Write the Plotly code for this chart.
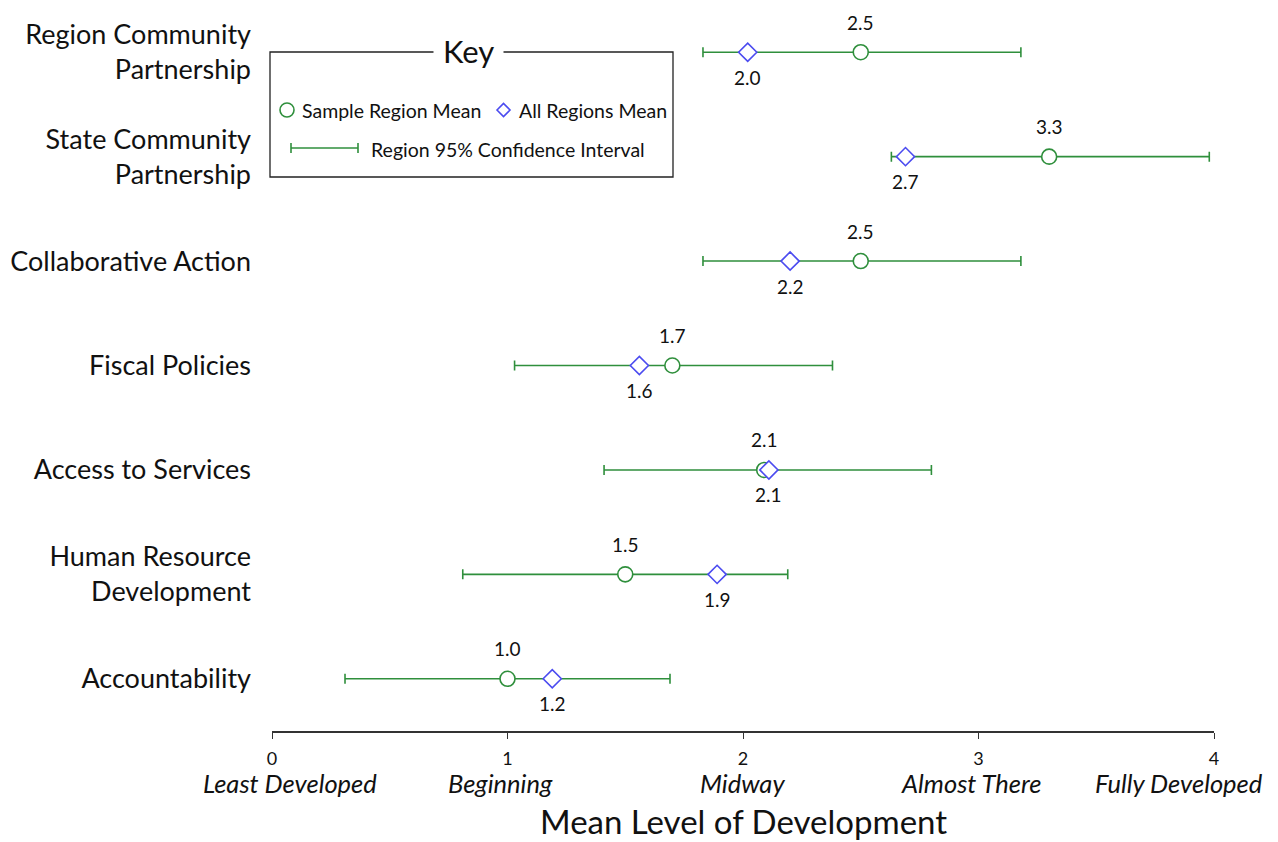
import plotly.graph_objects as go

# Indicator areas (top to bottom)
categories = [
    "Region Community<br>Partnership",
    "State Community<br>Partnership",
    "Collaborative Action",
    "Fiscal Policies",
    "Access to Services",
    "Human Resource<br>Development",
    "Accountability",
]
region_mean = [2.5, 3.3, 2.5, 1.7, 2.09, 1.5, 1.0]
all_regions_mean = [2.02, 2.69, 2.2, 1.56, 2.11, 1.89, 1.19]
ci_low = [1.83, 2.63, 1.83, 1.03, 1.41, 0.81, 0.31]
ci_high = [3.18, 3.98, 3.18, 2.38, 2.80, 2.19, 1.69]

tick_values = [0, 1, 2, 3, 4]
tick_names = ["Least Developed", "Beginning", "Midway", "Almost There", "Fully Developed"]
# horizontal nudges so the outer descriptors stay on the page
tick_name_shift = [18, -7, -1, -8, -35]

FONT = "Lato"
GREEN = "#2f8f3c"
BLUE = "#4b4bf0"
W, H = 1278, 842
ML, MR, MT, MB = 272, 64, 0, 111
PW, PH = W - ML - MR, H - MT - MB


def px(x):
    return (x - ML) / PW


def py(y):
    return (H - MB - y) / PH


fig = go.Figure()

# Sample region mean with its 95% confidence interval
fig.add_trace(go.Scatter(
    x=region_mean, y=categories, mode="markers",
    marker=dict(symbol="circle", size=15, color="white",
                line=dict(color=GREEN, width=1.6)),
    error_x=dict(type="data", symmetric=False,
                 array=[h - m for h, m in zip(ci_high, region_mean)],
                 arrayminus=[m - l for m, l in zip(region_mean, ci_low)],
                 color=GREEN, thickness=1.6, width=5),
    showlegend=False, hoverinfo="x+y",
))

# All regions mean
fig.add_trace(go.Scatter(
    x=all_regions_mean, y=categories, mode="markers",
    marker=dict(symbol="diamond", size=14, color="white",
                line=dict(color=BLUE, width=1.6)),
    showlegend=False, hoverinfo="x+y",
))

annotations = []
for cat, rm, am in zip(categories, region_mean, all_regions_mean):
    annotations.append(dict(x=rm, y=cat, xref="x", yref="y", text=f"{rm:.1f}",
                            showarrow=False, yshift=30,
                            font=dict(family=FONT, size=19, color="#111")))
    annotations.append(dict(x=am, y=cat, xref="x", yref="y", text=f"{am:.1f}",
                            showarrow=False, yshift=-25,
                            font=dict(family=FONT, size=19, color="#111")))

# Italic descriptors under the numeric ticks
for v, name, dx in zip(tick_values, tick_names, tick_name_shift):
    annotations.append(dict(x=v, y=py(783), xref="x", yref="paper", text=f"<i>{name}</i>",
                            showarrow=False, yanchor="middle", xshift=dx,
                            font=dict(family=FONT, size=25.5, color="#111")))

# Axis title
annotations.append(dict(x=0.5, y=py(821), xref="paper", yref="paper",
                        text="Mean Level of Development", showarrow=False, yanchor="middle",
                        font=dict(family=FONT, size=33, color="#111")))

# Key
shapes = [
    dict(type="rect", xref="paper", yref="paper", x0=px(270), x1=px(673), y0=py(177), y1=py(52),
         line=dict(color="#222", width=1.3), fillcolor="white", layer="above"),
    dict(type="circle", xref="paper", yref="paper", x0=px(280), x1=px(294), y0=py(117), y1=py(103),
         line=dict(color=GREEN, width=1.6), layer="above"),
    dict(type="path", xref="paper", yref="paper",
         path=f"M {px(497)} {py(110)} L {px(503.5)} {py(103.5)} L {px(510)} {py(110)} L {px(503.5)} {py(116.5)} Z",
         line=dict(color=BLUE, width=1.6), layer="above"),
    dict(type="line", xref="paper", yref="paper", x0=px(291), x1=px(358), y0=py(148), y1=py(148),
         line=dict(color=GREEN, width=1.6), layer="above"),
    dict(type="line", xref="paper", yref="paper", x0=px(291), x1=px(291), y0=py(143), y1=py(153),
         line=dict(color=GREEN, width=1.6), layer="above"),
    dict(type="line", xref="paper", yref="paper", x0=px(358), x1=px(358), y0=py(143), y1=py(153),
         line=dict(color=GREEN, width=1.6), layer="above"),
]
annotations += [
    dict(x=px(468), y=py(51), xref="paper", yref="paper", text="Key", showarrow=False,
         bgcolor="white", borderpad=9, xanchor="center", yanchor="middle",
         font=dict(family=FONT, size=31, color="#111")),
    dict(x=px(300), y=py(111), xref="paper", yref="paper", text="Sample Region Mean",
         showarrow=False, xanchor="left", yanchor="middle",
         font=dict(family=FONT, size=19.5, color="#111")),
    dict(x=px(517), y=py(111), xref="paper", yref="paper", text="All Regions Mean",
         showarrow=False, xanchor="left", yanchor="middle",
         font=dict(family=FONT, size=19.5, color="#111")),
    dict(x=px(369), y=py(149), xref="paper", yref="paper", text="Region 95% Confidence Interval",
         showarrow=False, xanchor="left", yanchor="middle",
         font=dict(family=FONT, size=19.5, color="#111")),
]

fig.update_layout(
    width=W, height=H,
    margin=dict(l=ML, r=MR, t=MT, b=MB),
    paper_bgcolor="white", plot_bgcolor="white",
    font=dict(family=FONT, color="#111"),
    shapes=shapes, annotations=annotations,
    xaxis=dict(range=[0, 4], tickvals=tick_values, ticktext=[str(v) for v in tick_values],
               showgrid=False, zeroline=False, showline=True, linecolor="#333", linewidth=1.5,
               ticks="outside", ticklen=6, tickwidth=1.3, tickcolor="#333",
               tickfont=dict(family=FONT, size=18, color="#111"), ticklabelstandoff=5),
    yaxis=dict(type="category", categoryorder="array", categoryarray=categories,
               range=[6.5, -0.5], showgrid=False, zeroline=False, showline=False,
               ticks="", tickfont=dict(family=FONT, size=27, color="#111"),
               ticklabelstandoff=20),
)

fig.write_html("out.html")
